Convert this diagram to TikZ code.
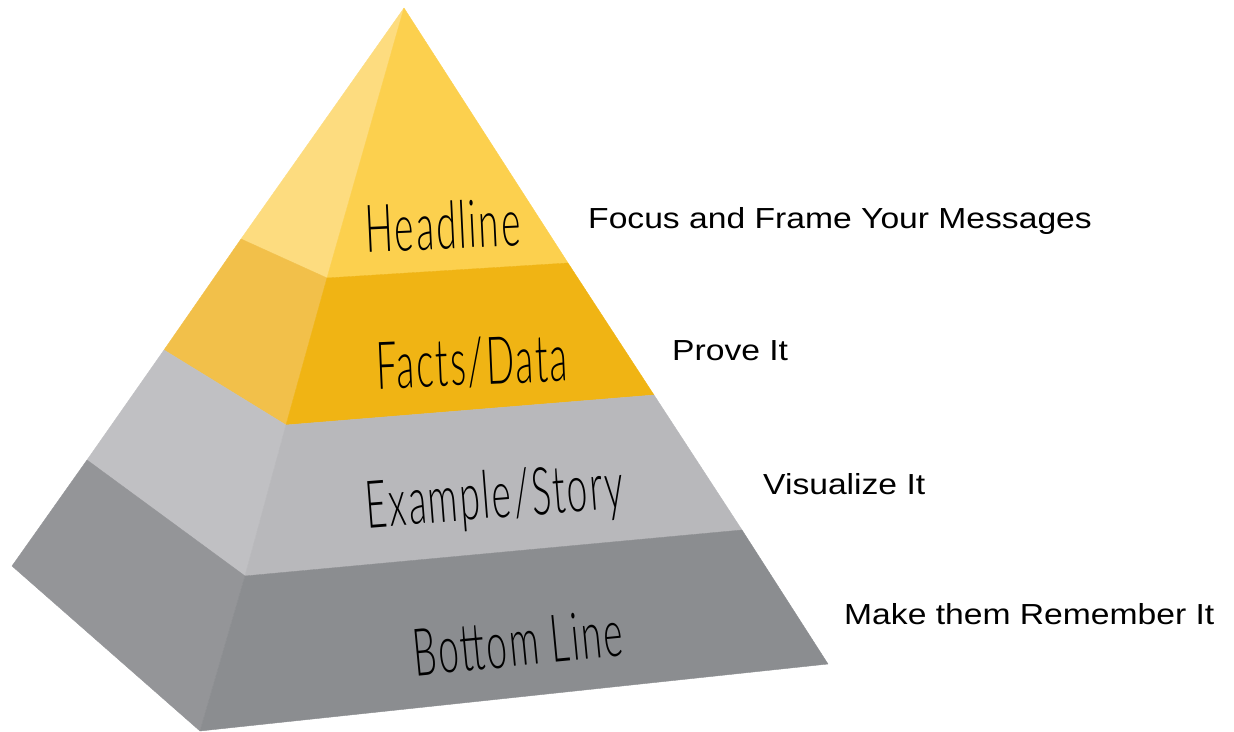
\documentclass[tikz,border=0pt]{standalone}
\usepackage{fontspec}
\usepackage{tikz}
\newfontfamily\tierfont[FakeStretch=0.56, LetterSpace=3, UprightFont=* Light]{Lato}
\newfontfamily\notefont[FakeStretch=1.16]{Liberation Sans}
\definecolor{headfront}{HTML}{FCD04E}
\definecolor{headside}{HTML}{FDDC7F}
\definecolor{factsfront}{HTML}{F0B414}
\definecolor{factsside}{HTML}{F2C04A}
\definecolor{examplefront}{HTML}{B8B8BB}
\definecolor{exampleside}{HTML}{C0C0C3}
\definecolor{bottomfront}{HTML}{8B8D90}
\definecolor{bottomside}{HTML}{949598}

\begin{document}
\begin{tikzpicture}[x=1pt,y=-1pt]
    \tikzstyle{tier label}=[font=\tierfont\fontsize{66}{66}\selectfont, inner sep=0pt, anchor=base]
    \tikzstyle{note}=[font=\notefont\fontsize{29}{29}\selectfont, inner sep=0pt, anchor=base west]

    \useasboundingbox (0,0) rectangle (1234,731);

    % Corners of the pyramid: left, front and right edge
    \foreach \name / \x / \y in {0/404/8, 1/241/239, 2/164/350, 3/87/460, 4/12/566}
        \coordinate (L-\name) at (\x,\y);
    \foreach \name / \x / \y in {0/404/8, 1/327/278, 2/286/425, 3/245/576, 4/200/731}
        \coordinate (F-\name) at (\x,\y);
    \foreach \name / \x / \y in {0/404/8, 1/568/263, 2/654/395, 3/742/530, 4/828/664}
        \coordinate (R-\name) at (\x,\y);

    % Draw the layers, side face and front face
    \foreach \lo / \hi / \side / \front in {0/1/headside/headfront, 1/2/factsside/factsfront,
                                            2/3/exampleside/examplefront, 3/4/bottomside/bottomfront}
    {
        \filldraw[fill=\side, draw=\side, line width=0.4pt, line join=round]
            (L-\lo) -- (L-\hi) -- (F-\hi) -- (F-\lo) -- cycle;
        \filldraw[fill=\front, draw=\front, line width=0.4pt, line join=round]
            (F-\lo) -- (F-\hi) -- (R-\hi) -- (R-\lo) -- cycle;
    }

    % Label the layers
    \node[tier label, rotate=2.7] (headline) at (444,249) {Headline};
    \node[tier label, rotate=2.5] (facts) at (473,385) {Facts/Data};
    \node[tier label, rotate=4.5] (example) at (496,518) {Example/Story};
    \node[tier label, rotate=5.5] (bottom) at (520,666) {Bottom Line};

    % Notes on the right
    \node[note] (focus) at (588,228) {Focus and Frame Your Messages};
    \node[note] (prove) at (672,360) {Prove It};
    \node[note] (visualize) at (763,494) {Visualize It};
    \node[note] (remember) at (844,624) {Make them Remember It};
\end{tikzpicture}
\end{document}
